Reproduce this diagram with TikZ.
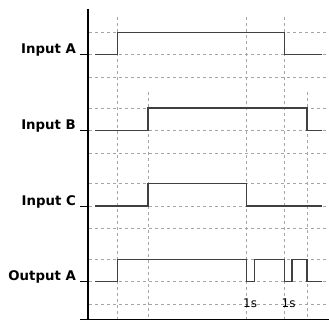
\documentclass[tikz,border=0pt]{standalone}
\usepackage{fontspec}
\setmainfont{DejaVu Sans}
\begin{document}
\begin{tikzpicture}[x=1pt,y=-1pt,
  grid/.style={draw=black!35,line width=0.8pt,dash pattern=on 3pt off 3pt},
  axis/.style={draw=black,line width=1.2pt},
  tickmark/.style={draw=black,line width=1pt},
  sig/.style={draw=black!75,line width=1.2pt,line join=miter},
  lab/.style={font=\fontsize{13.3}{15}\selectfont\bfseries,anchor=base east,inner sep=0pt},
  dur/.style={font=\fontsize{12}{14}\selectfont,anchor=base west,inner sep=0pt}]
\useasboundingbox (0,0) rectangle (329,321);
% horizontal grid
\foreach \h in {32.3,107.9,183.5,259.1}{
  \draw[grid] (89,\h) -- (329,\h);
  \draw[grid] (89,\h+22.5) -- (329,\h+22.5);
  \draw[grid] (89,\h+45) -- (329,\h+45);
}
% vertical grid
\draw[grid] (117.7,17) -- (117.7,319);
\draw[grid] (246.3,17) -- (246.3,319);
\draw[grid] (284.3,17) -- (284.3,319);
\draw[grid] (148,92) -- (148,319);
\draw[grid] (307,92) -- (307,319);
% axes
\draw[axis] (88,9) -- (88,319.5);
\draw[axis] (80,319.5) -- (329,319.5);
% ticks
\foreach \y in {54.8,130.4,206,281.6}{\draw[tickmark] (80,\y) -- (88,\y);}
% labels
\node[lab] (la) at (76,53.8) {Input A};
\node[lab] (lb) at (76,129.4) {Input B};
\node[lab] (lc) at (76,205) {Input C};
\node[lab] (lo) at (76,280.6) {Output A};
% signals
\draw[sig] (95,54.8) -- (117.7,54.8) -- (117.7,32.3) -- (284.3,32.3) -- (284.3,54.8) -- (322,54.8);
\draw[sig] (95,130.4) -- (148,130.4) -- (148,107.9) -- (307,107.9) -- (307,130.4) -- (322,130.4);
\draw[sig] (95,206) -- (148,206) -- (148,183.5) -- (246.3,183.5) -- (246.3,206) -- (322,206);
\draw[sig] (95,281.6) -- (117.7,281.6) -- (117.7,259.1) -- (246.3,259.1) -- (246.3,281.6) -- (254.3,281.6) -- (254.3,259.1) -- (284.3,259.1) -- (284.3,281.6) -- (292,281.6) -- (292,259.1) -- (307,259.1) -- (307,281.6) -- (322,281.6);
% durations
\node[dur] (d1) at (243,307.5) {1s};
\node[dur] (d2) at (281.5,307.5) {1s};
\end{tikzpicture}
\end{document}
